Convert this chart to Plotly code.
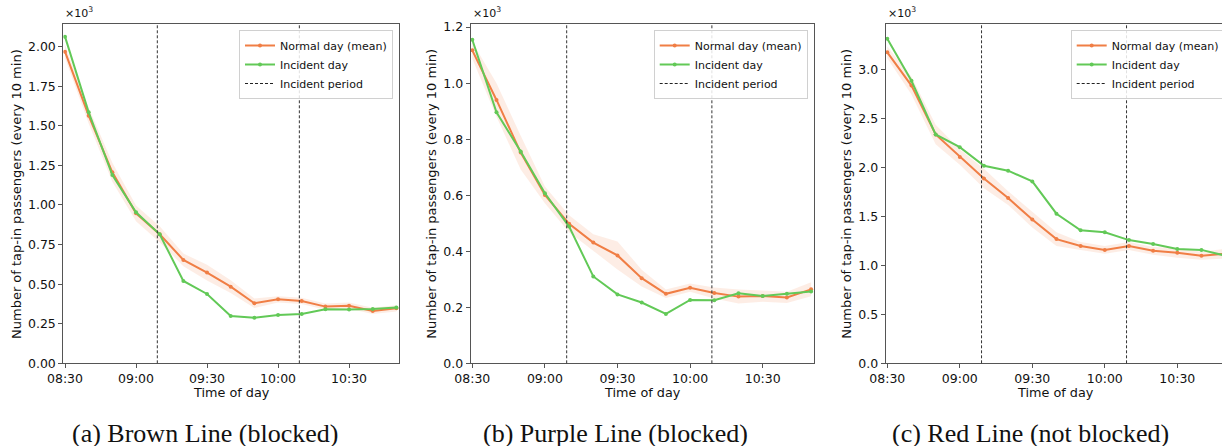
import plotly.graph_objects as go

# ---------------- data (values in thousands of passengers) ----------------
times = ["08:30", "08:40", "08:50", "09:00", "09:10", "09:20", "09:30", "09:40",
         "09:50", "10:00", "10:10", "10:20", "10:30", "10:40", "10:50"]
tick_labels = ["08:30", "09:00", "09:30", "10:00", "10:30"]
incident_period = ["09:09", "10:09"]

brown_normal = [1.968, 1.564, 1.206, 0.947, 0.815, 0.653, 0.573, 0.484,
                0.379, 0.404, 0.394, 0.358, 0.364, 0.331, 0.347]
brown_normal_std = [0.04, 0.05, 0.06, 0.05, 0.05, 0.04, 0.05, 0.04,
                    0.03, 0.02, 0.02, 0.02, 0.02, 0.02, 0.02]
brown_incident = [2.063, 1.585, 1.189, 0.954, 0.815, 0.520, 0.438, 0.299,
                  0.288, 0.305, 0.312, 0.341, 0.339, 0.343, 0.352]

purple_normal = [1.117, 0.940, 0.752, 0.601, 0.498, 0.431, 0.385, 0.304,
                 0.248, 0.270, 0.251, 0.238, 0.240, 0.235, 0.264]
purple_normal_std = [0.03, 0.06, 0.06, 0.03, 0.03, 0.03, 0.05, 0.03,
                     0.015, 0.015, 0.02, 0.025, 0.02, 0.02, 0.025]
purple_incident = [1.155, 0.896, 0.756, 0.607, 0.488, 0.310, 0.246, 0.217,
                   0.176, 0.226, 0.225, 0.250, 0.240, 0.248, 0.256]

red_normal = [3.18, 2.84, 2.34, 2.11, 1.89, 1.69, 1.47, 1.27,
              1.20, 1.16, 1.20, 1.15, 1.13, 1.10, 1.12]
red_normal_std = [0.06, 0.09, 0.10, 0.08, 0.10, 0.07, 0.08, 0.07,
                  0.04, 0.04, 0.04, 0.04, 0.05, 0.04, 0.05]
red_incident = [3.32, 2.89, 2.34, 2.21, 2.02, 1.97, 1.86, 1.53,
                1.36, 1.34, 1.26, 1.22, 1.17, 1.16, 1.10]

captions = ["(a) Brown Line (blocked)", "(b) Purple Line (blocked)",
            "(c) Red Line (not blocked)"]
y_tick_vals = [
    [0, 0.25, 0.5, 0.75, 1.0, 1.25, 1.5, 1.75, 2.0],
    [0, 0.2, 0.4, 0.6, 0.8, 1.0, 1.2],
    [0, 0.5, 1.0, 1.5, 2.0, 2.5, 3.0],
]
y_tick_fmt = [".2f", ".1f", ".1f"]
y_max = [2.141, 1.21, 3.467]


def minutes(t):
    h, m = t.split(":")
    return (int(h) - 8) * 60 + int(m) - 30


xm = [minutes(t) for t in times]
tick_m = [minutes(t) for t in tick_labels]
inc_m = [minutes(t) for t in incident_period]

W, H = 1222, 446
ORANGE = "#F07E45"
GREEN = "#62C957"
BAND = "rgba(240,126,69,0.14)"
FONT = "DejaVu Sans"
TXT = "#111"

panels = [
    dict(normal=brown_normal, std=brown_normal_std, inc=brown_incident,
         xpx=(63.3, 399.0), xr=(-0.72, 141.1), leg_x=393.0, leg_anchor="right"),
    dict(normal=purple_normal, std=purple_normal_std, inc=purple_incident,
         xpx=(470.7, 814.0), xr=(-0.66, 141.2), leg_x=807.7, leg_anchor="right"),
    dict(normal=red_normal, std=red_normal_std, inc=red_incident,
         xpx=(885.7, 1222.0), xr=(-0.66, 138.5), leg_x=1070.7, leg_anchor="left"),
]

y_top_px, y_bot_px = 24.3, 363.3
ydom = [1 - y_bot_px / H, 1 - y_top_px / H]

fig = go.Figure()
annotations = []
shapes = []
layout = dict(
    width=W, height=H,
    margin=dict(l=0, r=0, t=0, b=0, autoexpand=False),
    paper_bgcolor="white", plot_bgcolor="white",
    font=dict(family=FONT, size=13, color=TXT),
    showlegend=True,
)

for i, p in enumerate(panels):
    k = "" if i == 0 else str(i + 1)
    xa, ya = "x" + k, "y" + k
    leg = "legend" + k
    upper = [m + s for m, s in zip(p["normal"], p["std"])]
    lower = [m - s for m, s in zip(p["normal"], p["std"])]

    fig.add_trace(go.Scatter(x=xm, y=upper, mode="lines", line=dict(width=0),
                             hoverinfo="skip", showlegend=False, xaxis=xa, yaxis=ya,
                             legend=leg))
    fig.add_trace(go.Scatter(x=xm, y=lower, mode="lines", line=dict(width=0),
                             fill="tonexty", fillcolor=BAND, hoverinfo="skip",
                             showlegend=False, xaxis=xa, yaxis=ya, legend=leg))
    fig.add_trace(go.Scatter(x=xm, y=p["normal"], mode="lines+markers",
                             name="Normal day (mean)",
                             line=dict(color=ORANGE, width=2),
                             marker=dict(color=ORANGE, size=4),
                             xaxis=xa, yaxis=ya, legend=leg))
    fig.add_trace(go.Scatter(x=xm, y=p["inc"], mode="lines+markers",
                             name="Incident day",
                             line=dict(color=GREEN, width=2),
                             marker=dict(color=GREEN, size=4),
                             xaxis=xa, yaxis=ya, legend=leg))
    fig.add_trace(go.Scatter(x=[None], y=[None], mode="lines",
                             name="Incident period",
                             line=dict(color="#222", width=1, dash="3px,2px"),
                             xaxis=xa, yaxis=ya, legend=leg))
    for t in inc_m:
        shapes.append(dict(type="line", xref=xa, yref=ya + " domain",
                           x0=t, x1=t, y0=0, y1=1,
                           line=dict(color="#333", width=1, dash="3px,2px")))

    xdom = [p["xpx"][0] / W, p["xpx"][1] / W]
    layout["xaxis" + k] = dict(
        domain=xdom, range=list(p["xr"]), anchor=ya,
        tickvals=tick_m, ticktext=tick_labels,
        showline=True, linecolor="#555", linewidth=1, mirror=True,
        ticks="outside", ticklen=4, tickcolor="#555", showgrid=False,
        zeroline=False, tickfont=dict(family=FONT, size=12.5, color=TXT),
    )
    layout["yaxis" + k] = dict(
        domain=ydom, range=[0, y_max[i]], anchor=xa,
        tickvals=y_tick_vals[i], tickformat=y_tick_fmt[i],
        showline=True, linecolor="#555", linewidth=1,
        mirror=(i < 2),
        ticks="outside", ticklen=4, tickcolor="#555", showgrid=False,
        zeroline=False, tickfont=dict(family=FONT, size=12.5, color=TXT),
    )
    layout[leg] = dict(
        x=p["leg_x"] / W, xanchor=p["leg_anchor"], xref="paper",
        y=1 - 30 / H, yanchor="top", yref="paper",
        bgcolor="rgba(255,255,255,0.85)", bordercolor="#d0d0d0", borderwidth=1,
        font=dict(family=FONT, size=11, color=TXT),
        traceorder="normal", tracegroupgap=0, itemwidth=30,
    )

    # ×10³ multiplier
    annotations.append(dict(
        text="×10<sup>3</sup>", xref="paper", yref="paper",
        x=p["xpx"][0] / W, y=1 - 22 / H, xanchor="left", yanchor="bottom",
        showarrow=False, font=dict(family=FONT, size=11, color=TXT)))
    # x axis title
    xc = (p["xpx"][0] + (p["xpx"][1] if i < 2 else 1226.0)) / 2
    annotations.append(dict(
        text="Time of day", xref="paper", yref="paper",
        x=xc / W, y=1 - 392 / H, xanchor="center", yanchor="middle",
        showarrow=False, font=dict(family=FONT, size=12.8, color=TXT)))
    # y axis title
    ytx = [17.0, 431.7, 846.7][i]
    annotations.append(dict(
        text="Number of tap-in passengers (every 10 min)", textangle=-90,
        xref="paper", yref="paper",
        x=ytx / W, y=1 - 194 / H, xanchor="center", yanchor="middle",
        showarrow=False, font=dict(family=FONT, size=13, color=TXT)))
    # caption
    capx = [205.0, 615.0, 1030.0][i]
    annotations.append(dict(
        text=captions[i], xref="paper", yref="paper",
        x=capx / W, y=1 - 433 / H, xanchor="center", yanchor="middle",
        showarrow=False,
        font=dict(family="Liberation Serif", size=26, color=TXT)))

layout["annotations"] = annotations
layout["shapes"] = shapes
fig.update_layout(**layout)

fig.write_html("out.html")
